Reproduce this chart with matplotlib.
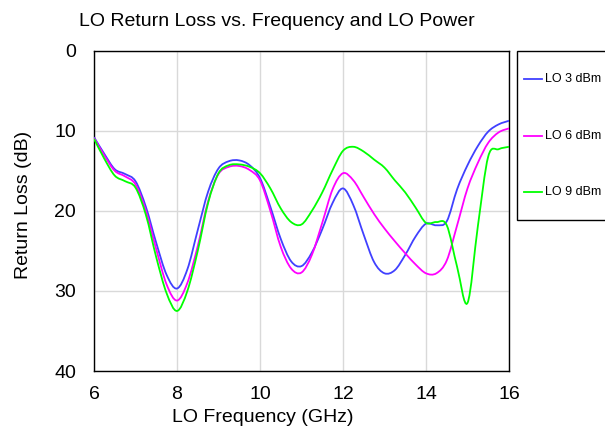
import numpy as np
import matplotlib.pyplot as plt
from matplotlib.path import Path
from matplotlib.patches import PathPatch, Rectangle
from matplotlib.lines import Line2D

plt.rcParams['font.family'] = ['Liberation Sans', 'DejaVu Sans']

# values (return loss in dB, positive down)
freq_ghz = [6.0, 6.25, 6.5, 6.75, 7.0, 7.25, 7.5, 7.75, 8.0, 8.25, 8.5, 8.75,
            9.0, 9.25, 9.5, 9.75, 10.0, 10.25, 10.5, 10.75, 11.0, 11.25, 11.5,
            11.75, 12.0, 12.25, 12.5, 12.75, 13.0, 13.25, 13.5, 13.75, 14.0,
            14.25, 14.5, 14.75, 15.0, 15.25, 15.5, 15.75, 16.0]
rl_lo3 = [10.8, 12.9, 14.8, 15.4, 16.3, 19.5, 24.0, 28.0, 29.7, 27.3, 22.4, 17.6,
          14.7, 13.8, 13.7, 14.3, 15.9, 19.5, 23.5, 26.3, 26.9, 25.2, 22.3,
          19.0, 17.2, 19.3, 23.0, 26.4, 27.8, 27.4, 25.5, 23.2, 21.6,
          21.8, 21.3, 17.3, 14.3, 11.9, 10.1, 9.2, 8.75]
rl_lo6 = [10.9, 13.1, 15.0, 15.7, 16.7, 20.0, 24.8, 29.2, 31.2, 29.0, 24.4, 18.8,
          15.4, 14.5, 14.4, 14.9, 16.2, 20.0, 24.5, 27.2, 27.7, 25.5, 21.5,
          17.3, 15.3, 16.2, 18.3, 20.4, 22.2, 23.8, 25.3, 26.7, 27.8,
          27.8, 26.2, 21.8, 17.2, 14.0, 11.5, 10.2, 9.7]
rl_lo9 = [11.0, 13.5, 15.6, 16.3, 17.1, 20.5, 25.8, 30.3, 32.5, 30.0, 25.0, 19.0,
          15.3, 14.3, 14.2, 14.5, 15.3, 17.2, 19.7, 21.4, 21.7, 20.0, 17.7,
          14.9, 12.5, 12.0, 12.6, 13.6, 14.6, 16.2, 17.7, 19.6, 21.5,
          21.4, 21.8, 27.0, 31.5, 21.9, 13.2, 12.3, 12.0]
series_labels = ['LO 3 dBm', 'LO 6 dBm', 'LO 9 dBm']
series_colors = ['#4040ff', '#ff00ff', '#00ff00']

x_ticks = [6, 8, 10, 12, 14, 16]
y_ticks = [0, 10, 20, 30, 40]


def smooth_path(x, y):
    """Excel-like smoothed line: cubic bezier through every point."""
    pts = np.column_stack([x, y]).astype(float)
    n = len(pts)
    verts = [pts[0]]
    codes = [Path.MOVETO]
    for i in range(n - 1):
        p0 = pts[i - 1] if i > 0 else pts[i]
        p1 = pts[i]
        p2 = pts[i + 1]
        p3 = pts[i + 2] if i + 2 < n else pts[i + 1]
        c1 = p1 + (p2 - p0) / 6.0
        c2 = p2 - (p3 - p1) / 6.0
        verts += [c1, c2, p2]
        codes += [Path.CURVE4] * 3
    return Path(verts, codes)


W, H = 605, 429
fig = plt.figure(figsize=(W / 100, H / 100), dpi=100)
ax = fig.add_axes([94 / W, 1 - 371 / H, (509 - 94) / W, (371 - 50.7) / H])

for vals, col in zip([rl_lo3, rl_lo6, rl_lo9], series_colors):
    ax.add_patch(PathPatch(smooth_path(freq_ghz, vals), fill=False,
                           edgecolor=col, lw=1.3, zorder=3))

ax.set_xlim(6, 16)
ax.set_ylim(40, 0)
ax.set_xticks(x_ticks)
ax.set_yticks(y_ticks)
ax.grid(True, color='#d9d9d9', lw=1)
ax.set_axisbelow(True)
ax.tick_params(length=0, labelsize=14, colors='black')
ax.tick_params(axis='y', pad=13)
ax.tick_params(axis='x', pad=11)
for s in ax.spines.values():
    s.set_color('black')
    s.set_linewidth(1)

fig.text(277 / W, 1 - 21 / H, 'LO Return Loss vs. Frequency and LO Power',
         ha='center', va='center', fontsize=14)
fig.text(263 / W, 1 - 418 / H, 'LO Frequency (GHz)', ha='center', va='center',
         fontsize=14)
fig.text(24 / W, 1 - 205 / H, 'Return Loss (dB)', ha='center', va='center',
         rotation=90, fontsize=14)

# legend box, cut off by the right edge like the reference
fig.add_artist(Rectangle((517 / W, 1 - 220 / H), 120 / W, (220 - 50.7) / H,
                         transform=fig.transFigure, facecolor='white',
                         edgecolor='black', lw=1))
for i, (lab, col) in enumerate(zip(series_labels, series_colors)):
    yc = 1 - (79.3 + i * 56.5) / H
    fig.add_artist(Line2D([524 / W, 542 / W], [yc, yc], color=col, lw=1.3,
                          transform=fig.transFigure))
    fig.text(545 / W, yc, lab, ha='left', va='center', fontsize=9)

fig.savefig('out.png', dpi=100)
